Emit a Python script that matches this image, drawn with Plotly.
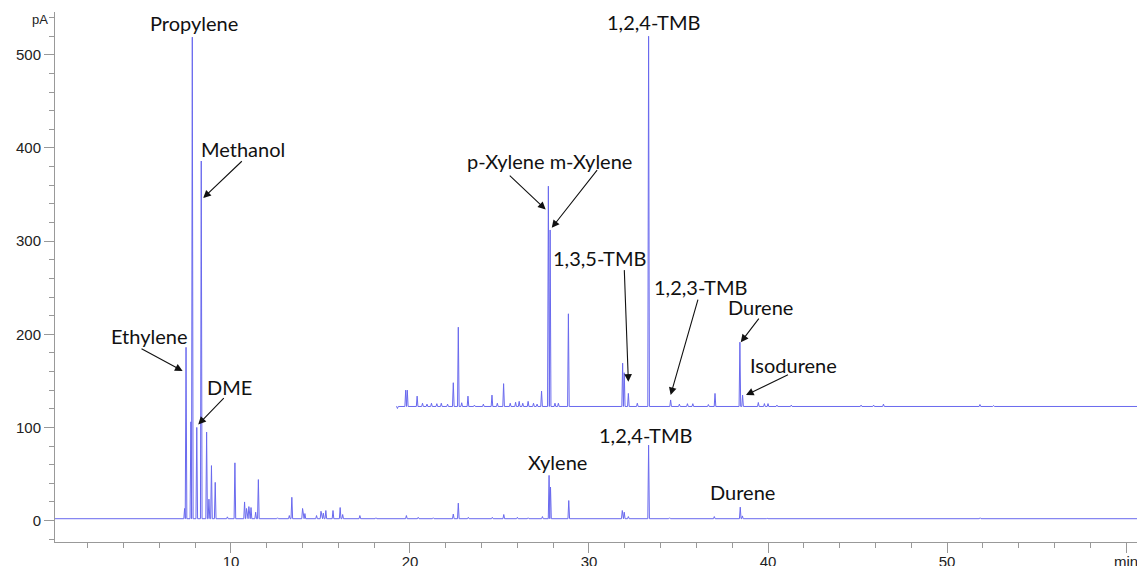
import plotly.graph_objects as go

# ---------------- data ----------------
# lower chromatogram: retention time (min) and peak height (pA)
lower_base = 2.0
lower_t = [7.41, 7.49, 7.76, 7.84, 8.09, 8.34, 8.64, 8.77, 8.91, 9.12, 9.8, 10.22,
           10.76, 10.87, 11.0, 11.12, 11.38, 11.53, 12.6, 13.26, 13.4, 14.0, 14.13,
           14.78, 15.03, 15.16, 15.3, 15.7, 16.1, 16.24, 17.2, 18.1, 19.8, 20.46,
           21.3, 22.42, 22.7, 23.26, 24.6, 25.24, 26.0, 26.6, 27.4, 27.77, 27.85,
           28.87, 31.86, 31.97, 32.2, 33.33, 34.5, 37.0, 38.45, 38.57, 39.95, 45.8, 51.85]
lower_h = [13, 186, 106, 519, 100, 386, 95, 23, 59, 41, 4, 62,
           20, 13, 15, 14, 9, 44, 3, 5.4, 25, 13, 7.5,
           5.4, 10, 8, 10.8, 10.8, 14, 6.5, 5.4, 3, 5.4, 3.5,
           3, 7, 18.7, 3.5, 3.5, 6.5, 3.5, 3, 4.3, 48.5, 36,
           21.5, 10.8, 9, 4.3, 81, 3, 4.3, 14.4, 5, 2.5, 2.5, 3]

# upper (offset) chromatogram
upper_base = 122.5
upper_start = 19.23
upper_t = [19.3, 19.76, 19.85, 20.4, 20.7, 20.95, 21.2, 21.5, 21.75, 22.1, 22.42, 22.7,
           22.89, 23.24, 23.6, 24.1, 24.58, 24.88, 25.23, 25.6, 25.9, 26.1, 26.3, 26.6,
           26.9, 27.1, 27.35, 27.73, 27.83, 28.1, 28.29, 28.85, 31.88, 31.97, 32.2, 32.7,
           33.33, 34.56, 35.05, 35.5, 35.8, 36.67, 37.04, 38.43, 38.58, 39.46, 39.8, 40.0,
           40.5, 41.3, 45.2, 45.9, 46.45, 51.84, 52.6]
upper_h = [120.3, 140, 140, 133.6, 126, 125, 126, 125.5, 126, 125, 148, 207.6,
           126.5, 133.6, 124, 125, 134.7, 126, 147, 126, 127, 128, 126, 128,
           126, 125, 139, 359, 312, 126, 126, 222, 169, 158.7, 136.5, 126,
           520, 129.5, 125, 125.5, 125.5, 124.6, 136.5, 191.5, 134.7, 126.8, 125.6, 125.6,
           124, 124, 124, 124, 125, 124.6, 123.5]

# labels: (text, x, y)
label_text = ["Propylene", "Methanol", "Ethylene", "DME", "p-Xylene m-Xylene",
              "1,3,5-TMB", "1,2,3-TMB", "1,2,4-TMB", "Durene", "Isodurene",
              "Xylene", "1,2,4-TMB", "Durene"]
label_x = [7.93, 10.67, 5.45, 9.89, 27.8, 30.6, 36.25, 33.6, 39.6, 41.45, 28.25, 33.15, 38.55]
label_y = [534.5, 398.5, 198.5, 143.5, 386.0, 281.5, 250.5, 535.0, 229.5, 167.5, 63.0, 92.0, 31.0]

# arrows: tail (ax, ay) -> head (hx, hy)
arrow_ax = [10.69, 4.92, 9.68, 25.49, 30.52, 31.97, 36.11, 39.55, 41.2]
arrow_ay = [387.3, 185.3, 133.2, 371.8, 377.9, 270.5, 238.9, 218.4, 157.3]
arrow_hx = [8.45, 7.30, 8.17, 27.58, 27.92, 32.2, 34.56, 38.48, 38.77]
arrow_hy = [346.3, 160.6, 103.2, 334.0, 314.3, 149.0, 134.7, 191.5, 134.7]

x_ticks = [10, 20, 30, 40, 50, 60]
x_ticktext = ["10", "20", "30", "40", "50", "min"]
y_ticks = [0, 100, 200, 300, 400, 500]

X_RANGE = [0.17, 61.06]
Y_RANGE = [-23, 546]
HALF_W = 0.045


def build(ts, hs, base, start, end):
    xs, ys = [start], [base]
    for t, h in zip(ts, hs):
        xs += [t - HALF_W, t, t + HALF_W]
        ys += [base, h, base]
    xs.append(end)
    ys.append(base)
    return xs, ys


lx, ly = build(lower_t, lower_h, lower_base, X_RANGE[0], X_RANGE[1])
ux, uy = build(upper_t, upper_h, upper_base, upper_start, X_RANGE[1])

line_col = "rgb(105,105,238)"
fig = go.Figure()
fig.add_trace(go.Scatter(x=lx, y=ly, mode="lines", line=dict(color=line_col, width=1),
                         hoverinfo="skip", showlegend=False))
fig.add_trace(go.Scatter(x=ux, y=uy, mode="lines", line=dict(color=line_col, width=1),
                         hoverinfo="skip", showlegend=False))

annos = []
lab_font = dict(family="Lato, 'Open Sans', sans-serif", size=20, color="#111")
for t, x, y in zip(label_text, label_x, label_y):
    annos.append(dict(x=x, y=y, xref="x", yref="y", text=t, showarrow=False,
                      font=lab_font, xanchor="center", yanchor="middle"))
for ax, ay, hx, hy in zip(arrow_ax, arrow_ay, arrow_hx, arrow_hy):
    annos.append(dict(x=hx, y=hy, xref="x", yref="y", ax=ax, ay=ay, axref="x", ayref="y",
                      text="", showarrow=True, arrowhead=2, arrowsize=1.4, arrowwidth=1.1,
                      arrowcolor="#111", standoff=0, startstandoff=0))
annos.append(dict(x=-0.0138, y=0.985, xref="paper", yref="paper", text="pA", showarrow=False,
                  font=dict(family="Liberation Sans, Arial, sans-serif", size=13, color="#222"),
                  xanchor="center", yanchor="middle"))

axis_font = dict(family="Liberation Sans, Arial, sans-serif", size=15, color="#222")
# page body has an 8px default margin, so the figure is sized/offset to compensate
fig.update_layout(
    width=1137, height=558,
    margin=dict(l=47, r=0, t=4, b=24, autoexpand=False),
    paper_bgcolor="white", plot_bgcolor="white",
    annotations=annos,
    xaxis=dict(range=X_RANGE, tickmode="array", tickvals=x_ticks, ticktext=x_ticktext,
               automargin=False, ticklabelstandoff=-4,
               ticks="outside", ticklen=10, tickcolor="#999", tickwidth=1,
               showline=True, linecolor="#999", linewidth=1, showgrid=False, zeroline=False,
               tickfont=axis_font,
               minor=dict(dtick=2, tick0=0, ticks="outside", ticklen=5, tickcolor="#999",
                          showgrid=False)),
    yaxis=dict(range=Y_RANGE, tickmode="array", tickvals=y_ticks,
               automargin=False,
               ticks="outside", ticklen=10, tickcolor="#999", tickwidth=1,
               showline=True, linecolor="#999", linewidth=1, showgrid=False, zeroline=False,
               tickfont=axis_font,
               minor=dict(dtick=20, tick0=0, ticks="outside", ticklen=5, tickcolor="#999",
                          showgrid=False)),
)

fig.write_html("out.html")
